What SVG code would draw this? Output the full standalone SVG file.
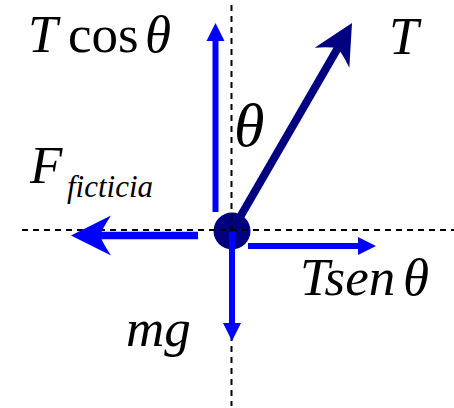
<svg xmlns="http://www.w3.org/2000/svg" width="454" height="408" viewBox="0 0 454 408">
<style>
.dash{stroke:#000;stroke-width:2;stroke-dasharray:6 5;fill:none}
.blue{stroke:#0000ff;stroke-width:6;fill:none}
.bhead{fill:#0000ff}
.navy{stroke:#000080;stroke-width:8;fill:none}
.nhead{fill:#000080}
text{font-family:"Liberation Serif","Times New Roman",serif;fill:#000}
.it{font-style:italic}
</style>
<defs>
<path id="barb" d="M0,0 L-40,-20 Q-32,-8 -29,0 Q-32,8 -40,20 Z"/>
<path id="tri" d="M0,0 L-18,-9 L-18,9 Z"/>
</defs>
<g id="tension-shaft">
<line class="navy" x1="232" y1="231" x2="339" y2="46"/>
<use href="#barb" class="nhead" transform="translate(352,23) rotate(-60)"/>
</g>
<g id="mass">
<circle cx="232" cy="231" r="18.5" fill="#000080"/>
</g>
<g id="axes">
<line class="dash" x1="231.5" y1="5" x2="231.5" y2="406"/>
<line class="dash" x1="22" y1="230" x2="454" y2="230"/>
</g>
<g id="connectors">
<line class="blue" x1="215.5" y1="212" x2="215.5" y2="40"/>
<use href="#tri" class="bhead" transform="translate(215.5,23) rotate(-90)"/>
<line class="blue" x1="232" y1="232" x2="232" y2="325"/>
<use href="#tri" class="bhead" transform="translate(232,341) rotate(90)"/>
<line class="blue" x1="248" y1="246" x2="359" y2="246"/>
<use href="#tri" class="bhead" transform="translate(376,246)"/>
<line stroke="#0000ff" stroke-width="7.5" x1="198" y1="235.5" x2="98" y2="235.5"/>
<use href="#barb" class="bhead" transform="translate(71,235.5) rotate(180)"/>
</g>
<g id="label-tcos">
<text x="28" y="52" font-size="53"><tspan class="it">T</tspan><tspan x="68">cos</tspan><tspan x="145" class="it">θ</tspan></text>
</g>
<g id="label-t">
<text x="389" y="54" font-size="53" class="it">T</text>
</g>
<g id="label-theta">
<text x="234" y="146" font-size="62" class="it">θ</text>
</g>
<g id="label-f">
<text x="30" y="183" font-size="53" class="it">F</text>
<text x="67" y="197" font-size="31" class="it">ficticia</text>
</g>
<g id="label-tsen">
<text x="300" y="295" font-size="53" class="it">Tsen<tspan x="403">θ</tspan></text>
</g>
<g id="label-mg">
<text x="126" y="346" font-size="53" class="it">mg</text>
</g>
</svg>
